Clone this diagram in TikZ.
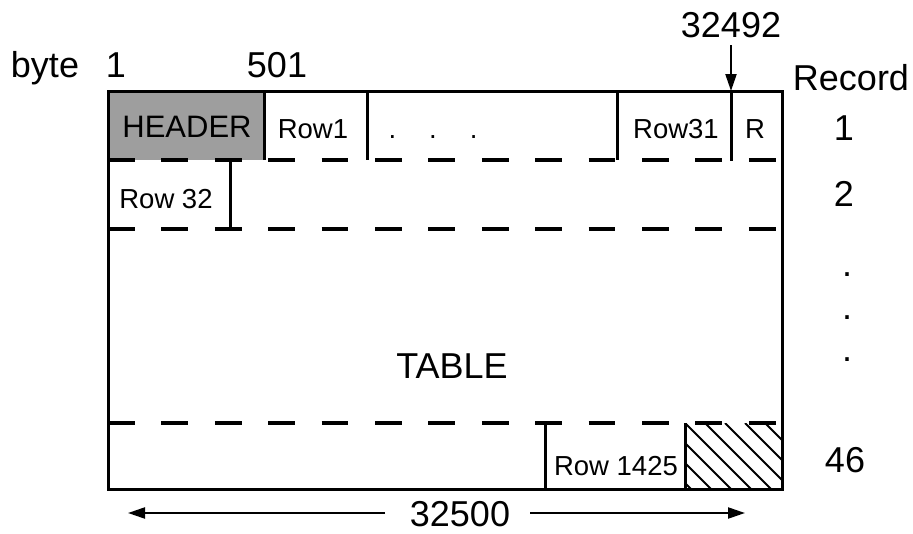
\documentclass[tikz,border=0pt]{standalone}
\usepackage{fontspec}
\setmainfont{Liberation Sans}
\usetikzlibrary{arrows.meta}
\begin{document}
\begin{tikzpicture}[x=1pt,y=-1pt,
  big/.style={font=\fontsize{36}{40}\selectfont, inner sep=0pt, anchor=base},
  cell/.style={font=\fontsize{27.5}{32}\selectfont, inner sep=0pt, anchor=base},
  hdr/.style={font=\fontsize{31}{36}\selectfont, inner sep=0pt, anchor=base},
  solidline/.style={line width=3pt},
  dashline/.style={line width=3.2pt, dash pattern=on 26.7pt off 26.7pt},
  arr/.style={line width=2.2pt, -{Triangle[length=17pt,width=11pt]}},
  hatchline/.style={line width=2pt}]
\useasboundingbox (0,0) rectangle (913,533);
% header fill
\fill[black!38] (108,91) rectangle (264,160);
% cell dividers
\draw[solidline] (264,91) -- (264,160);
\draw[solidline] (367,91) -- (367,160);
\draw[solidline] (617,91) -- (617,160);
\draw[solidline] (731,91) -- (731,161);
\draw[solidline] (230,160) -- (230,229);
\draw[solidline] (545,423) -- (545,489);
% dashed record boundaries
\draw[dashline] (108,160) -- (782,160);
\draw[dashline] (108,229) -- (782,229);
\draw[dashline] (108,423) -- (782,423);
% hatch
\begin{scope}
\clip (685,423) rectangle (782,489);
\foreach \i in {-4,...,5} {
  \draw[hatchline] (685+20*\i,423) -- (685+20*\i+80,503);
}
\end{scope}
\draw[solidline] (685,423) -- (685,489);
% outer box
\draw[solidline] (108,91) rectangle (782,489);
% cell texts
\node[hdr] (header) at (187,137) {HEADER};
\node[cell] (row1) at (313,138) {Row1};
\node[cell] (dots) at (433,138) {.\hspace{33pt}.\hspace{33pt}.};
\node[cell] (row31) at (676,138) {Row31};
\node[cell] (r) at (755,138) {R};
\node[cell] (row32) at (166,208) {Row 32};
\node[cell] (row1425) at (616,475) {Row 1425};
\node[big] (table) at (452,378) {TABLE};
% top labels
\node[big] (byte) at (45,77) {byte};
\node[big] (b1) at (116,77) {1};
\node[big] (b501) at (277,77) {501};
\node[big] (b32492) at (731,37) {32492};
\coordinate (topmark) at (731,91);
\draw[arr] (731,45) -- (topmark);
% record column
\node[big] (record) at (851,90) {Record};
\node[big] (rec1) at (844,140) {1};
\node[big] (rec2) at (844,206) {2};
\node[big] (d1) at (847,276) {.};
\node[big] (d2) at (847,319) {.};
\node[big] (d3) at (847,361) {.};
\node[big] (rec46) at (845,472) {46};
% width arrow
\node[big] (w) at (460,526) {32500};
\coordinate (wl) at (128,513);
\coordinate (wr) at (745,513);
\draw[arr] (385,513) -- (wl);
\draw[arr] (530,513) -- (wr);
\end{tikzpicture}
\end{document}
